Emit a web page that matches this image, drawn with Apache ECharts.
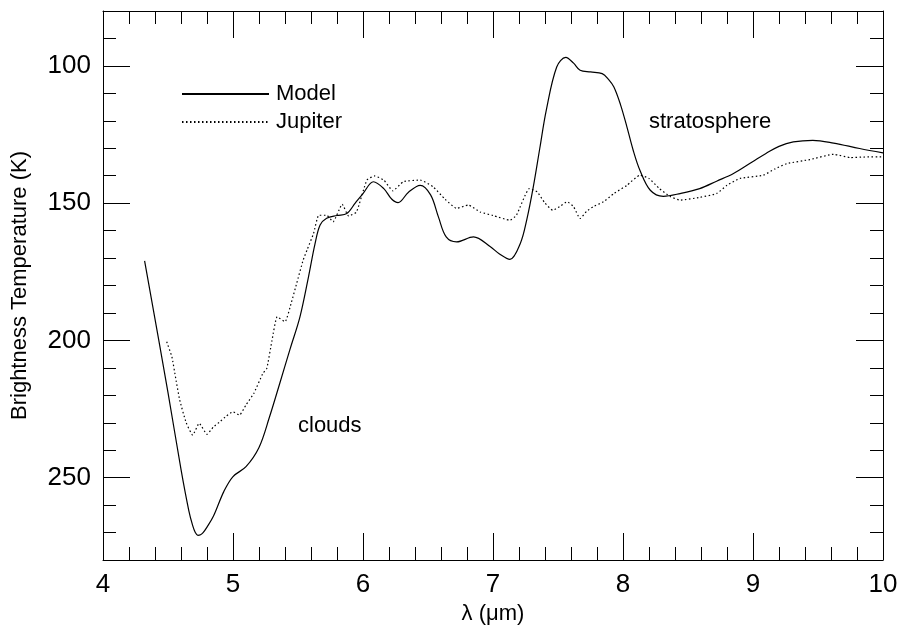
<!DOCTYPE html>
<html>
<head>
<meta charset="utf-8">
<script src="https://cdn.jsdelivr.net/npm/echarts@6/dist/echarts.min.js"></script>
<style>html,body{margin:0;padding:0;background:#fff}#chart{width:904px;height:635px}</style>
</head>
<body>
<div id="chart"></div>
<script>
// Model brightness temperature
var modelWave = [4.32,4.5,4.6,4.66,4.69,4.71,4.73,4.75,4.77,4.8,4.85,4.93,5.0,5.1,5.2,5.28,5.36,5.44,5.515,5.58,5.63,5.67,5.72,5.8,5.875,5.94,6.0,6.08,6.16,6.22,6.27,6.35,6.44,6.52,6.58,6.64,6.72,6.85,6.98,7.05,7.13,7.21,7.26,7.31,7.36,7.41,7.49,7.56,7.62,7.67,7.75,7.84,7.89,7.93,7.98,8.03,8.08,8.13,8.21,8.31,8.44,8.59,8.72,8.85,9.0,9.1,9.2,9.31,9.46,9.62,9.82,10.0];
var modelTemp = [171,219,247,262,267.5,270,271,270.8,270,268,264,255,249.6,246,239,228,215.6,203,191.4,177,165,158,155.5,154.5,153.8,150,146.5,142.2,144.7,148.5,149.8,146,143.5,147,155,162.3,164.1,162.3,165.9,168.5,170.5,164.7,156,144.1,130,116.1,100.4,96.9,99,101.6,102.2,102.8,105,107.7,114,122.2,131,138,145.3,147.5,146.5,144.7,142,139.2,134.8,131.9,129.3,127.7,127.1,128.1,130.1,131.7];
// Jupiter observed brightness temperature
var jupWave = [4.49,4.53,4.56,4.59,4.64,4.69,4.74,4.80,4.85,4.90,4.95,5.0,5.05,5.1,5.16,5.23,5.26,5.3,5.34,5.4,5.45,5.49,5.54,5.57,5.62,5.66,5.72,5.77,5.84,5.89,5.95,6.03,6.09,6.16,6.23,6.31,6.44,6.54,6.63,6.72,6.81,6.9,7.0,7.13,7.18,7.28,7.34,7.4,7.46,7.52,7.57,7.62,7.67,7.72,7.77,7.85,7.93,8.03,8.13,8.2,8.28,8.36,8.44,8.59,8.72,8.8,8.9,9.08,9.17,9.26,9.44,9.62,9.75,9.85,10.0];
var jupTemp = [200.5,206,214,221.7,230,234.5,230.2,234.2,231.5,229.6,227.5,226,227.2,223.5,219.3,212,210.2,200,191.4,193.2,186,179.2,170.7,167,161,154.4,154.4,156.8,150.4,154.7,153.2,141.6,140.1,141.6,145.5,142.2,141.6,144.1,148.5,151.9,150.7,153.2,154.5,156.2,154.4,144.7,145.9,150,152.6,151,149.5,151.3,155.6,153,151.3,149.5,146.5,143.5,139.8,141,144.7,147.5,148.9,147.9,146.5,143.5,141,139.8,137.5,135.6,134.1,132.2,133.4,133.2,133.1];
var xTicks = [4,5,6,7,8,9,10];
var yLabels = [100,150,200,250];
var seriesNames = ['Model','Jupiter'];
var notes = ['clouds','stratosphere'];

function pairs(xs, ys){ return xs.map(function(x,i){ return [x, ys[i]]; }); }

var FONT = 'Liberation Sans, Arial, Helvetica, sans-serif';
var black = '#000';
var chart = echarts.init(document.getElementById('chart'), null, {renderer:'canvas'});

function xAx(pos, labels){
  return {
    type:'value', position:pos, min:xTicks[0], max:xTicks[xTicks.length-1], interval:1,
    axisLine:{show:true, lineStyle:{color:black, width:1}},
    axisTick:{show:true, inside:true, length:27, lineStyle:{color:black, width:1}},
    minorTick:{show:true, splitNumber:5, length:13, lineStyle:{color:black, width:1}},
    splitLine:{show:false}, minorSplitLine:{show:false},
    axisLabel:{show:labels, fontSize:26, color:black, fontFamily:FONT, margin:12},
    name: labels ? 'λ (μm)' : '', nameLocation:'middle', nameGap:41,
    nameTextStyle:{fontSize:22, color:black, fontFamily:FONT}
  };
}
function yMinor(pos, labels){
  return {
    type:'value', position:pos, inverse:true, min:80, max:280, interval:10,
    axisLine:{show:true, lineStyle:{color:black, width:1}},
    axisTick:{show:true, inside:true, length:13, lineStyle:{color:black, width:1}},
    splitLine:{show:false},
    axisLabel:{show:labels, fontSize:26, color:black, fontFamily:FONT, margin:12,
      formatter:function(v){ return yLabels.indexOf(v) >= 0 ? String(v) : ''; }},
    name: labels ? 'Brightness Temperature (K)' : '', nameLocation:'middle', nameGap:72,
    nameTextStyle:{fontSize:22, color:black, fontFamily:FONT}
  };
}
function yMajor(pos){
  return {
    type:'value', position:pos, inverse:true, min:80, max:280,
    axisLine:{show:false},
    axisTick:{show:true, inside:true, length:27, customValues:yLabels, lineStyle:{color:black, width:1}},
    splitLine:{show:false},
    axisLabel:{show:false}
  };
}

chart.setOption({
  animation:false,
  backgroundColor:'#fff',
  textStyle:{fontFamily:FONT},
  grid:{left:103, top:11, right:21, bottom:75, containLabel:false},
  xAxis:[xAx('bottom', true), xAx('top', false)],
  yAxis:[yMinor('left', true), yMinor('right', false), yMajor('left'), yMajor('right')],
  legend:{
    orient:'vertical', left:176, top:78, itemWidth:87, itemHeight:14, itemGap:6,
    itemStyle:{opacity:0},
    textStyle:{fontSize:22, color:black, fontFamily:FONT, padding:[0,0,0,2]},
    data:seriesNames
  },
  graphic:[
    {type:'text', left:298, top:415, style:{text:notes[0], fontSize:22, fill:black, fontFamily:FONT}},
    {type:'text', left:649, top:111, style:{text:notes[1], fontSize:22, fill:black, fontFamily:FONT}}
  ],
  series:[
    {name:seriesNames[0], type:'line', data:pairs(modelWave, modelTemp), smooth:0.35, symbol:'none',
     lineStyle:{color:black, width:1.2, type:'solid'}, itemStyle:{color:black}},
    {name:seriesNames[1], type:'line', data:pairs(jupWave, jupTemp), smooth:0.15, symbol:'none',
     lineStyle:{color:black, width:1.2, type:[1.5,2.5]}, itemStyle:{color:black}}
  ]
});
</script>
</body>
</html>
